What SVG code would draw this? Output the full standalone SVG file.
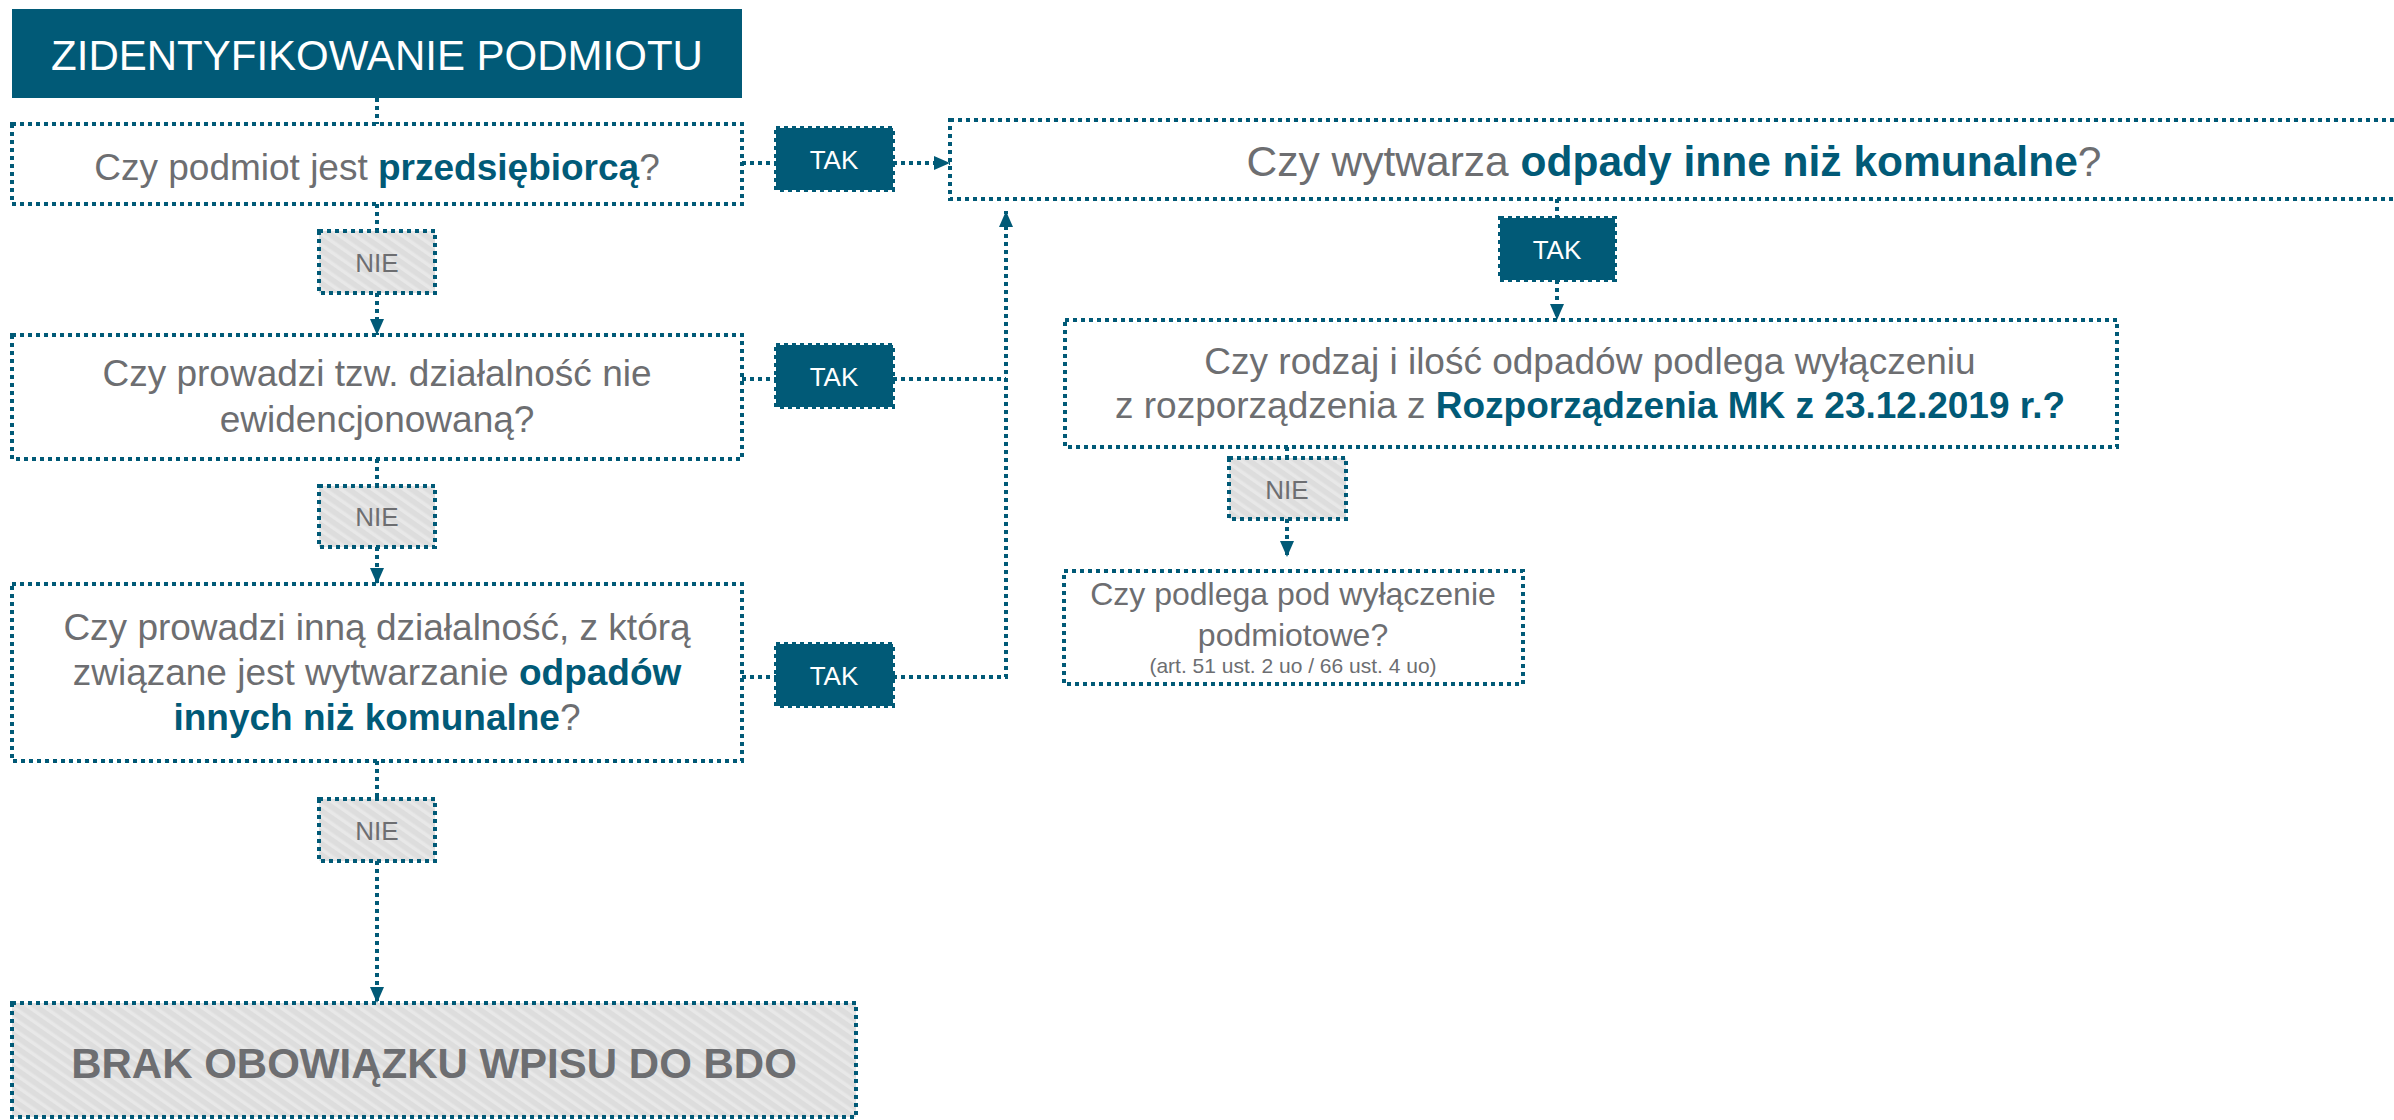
<svg xmlns="http://www.w3.org/2000/svg" width="2394" height="1120" viewBox="0 0 2394 1120">
<defs>
<style>
.dot{fill:none;stroke:#015a77;stroke-width:4;stroke-dasharray:4 4}
.box{fill:#ffffff}
.tak{fill:#015a77}
.nie{fill:url(#hatch)}
.t{font-family:"Liberation Sans",Arial,sans-serif;fill:#6d6e71;text-anchor:middle}
.b{font-weight:bold;fill:#015a77}
.w{fill:#ffffff}
</style>
<pattern id="hatch" width="9" height="9" patternUnits="userSpaceOnUse" patternTransform="rotate(-55)">
<rect width="9" height="9" fill="#dddddd"/>
<rect width="3.5" height="9" fill="#e8e8e8"/>
</pattern>
<marker id="arr" markerUnits="userSpaceOnUse" markerWidth="16" markerHeight="14" refX="16" refY="7" orient="auto">
<path d="M0,0 L16,7 L0,14 z" fill="#015a77"/>
</marker>
</defs>
<rect width="2394" height="1120" fill="#ffffff"/>

<g id="connectors" class="dot">
<path d="M377,98 V124"/>
<path d="M377,204 V231"/>
<path d="M377,293 V335" marker-end="url(#arr)"/>
<path d="M377,459 V486"/>
<path d="M377,547 V584" marker-end="url(#arr)"/>
<path d="M377,761 V799"/>
<path d="M377,861 V1003" marker-end="url(#arr)"/>
<path d="M742,163 H776"/>
<path d="M893,163 H950" marker-end="url(#arr)"/>
<path d="M742,379 H776"/>
<path d="M893,379 H1006"/>
<path d="M742,677 H776"/>
<path d="M893,677 H1006 V211" marker-end="url(#arr)"/>
<path d="M1557,199 V218"/>
<path d="M1557,280 V320" marker-end="url(#arr)"/>
<path d="M1287,447 V458"/>
<path d="M1287,519 V557" marker-end="url(#arr)"/>
</g>

<g id="title">
<rect x="12" y="9" width="730" height="89" fill="#015a77"/>
<text class="t w" x="377" y="70" font-size="42">ZIDENTYFIKOWANIE PODMIOTU</text>
</g>

<g id="q1">
<rect class="box dot" x="12" y="124" width="730" height="80"/>
<text class="t" x="377" y="180" font-size="37">Czy podmiot jest <tspan class="b">przedsiębiorcą</tspan>?</text>
</g>

<g id="nie1">
<rect class="nie dot" x="319" y="231" width="116" height="62"/>
<text class="t" x="377" y="272" font-size="26">NIE</text>
</g>

<g id="q2">
<rect class="box dot" x="12" y="335" width="730" height="124"/>
<text class="t" x="377" y="386" font-size="37">Czy prowadzi tzw. działalność nie</text>
<text class="t" x="377" y="432" font-size="37">ewidencjonowaną?</text>
</g>

<g id="nie2">
<rect class="nie dot" x="319" y="486" width="116" height="61"/>
<text class="t" x="377" y="526" font-size="26">NIE</text>
</g>

<g id="q3">
<rect class="box dot" x="12" y="584" width="730" height="177"/>
<text class="t" x="377" y="640" font-size="37">Czy prowadzi inną działalność, z którą</text>
<text class="t" x="377" y="685" font-size="37">związane jest wytwarzanie <tspan class="b">odpadów</tspan></text>
<text class="t" x="377" y="730" font-size="37"><tspan class="b">innych niż komunalne</tspan>?</text>
</g>

<g id="nie3">
<rect class="nie dot" x="319" y="799" width="116" height="62"/>
<text class="t" x="377" y="840" font-size="26">NIE</text>
</g>

<g id="brak">
<rect class="nie dot" x="12" y="1003" width="844" height="114"/>
<text class="t" x="434" y="1078" font-size="42" font-weight="bold">BRAK OBOWIĄZKU WPISU DO BDO</text>
</g>

<g id="tak1">
<rect class="tak dot" x="776" y="128" width="117" height="62"/>
<text class="t w" x="834" y="169" font-size="26">TAK</text>
</g>

<g id="tak2">
<rect class="tak dot" x="776" y="345" width="117" height="62"/>
<text class="t w" x="834" y="386" font-size="26">TAK</text>
</g>

<g id="tak3">
<rect class="tak dot" x="776" y="644" width="117" height="62"/>
<text class="t w" x="834" y="685" font-size="26">TAK</text>
</g>

<g id="q4">
<rect class="box dot" x="950" y="120" width="1470" height="79"/>
<text class="t" x="1674" y="176" font-size="42.5">Czy wytwarza <tspan class="b">odpady inne niż komunalne</tspan>?</text>
</g>

<g id="tak4">
<rect class="tak dot" x="1500" y="218" width="115" height="62"/>
<text class="t w" x="1557" y="259" font-size="26">TAK</text>
</g>

<g id="q5">
<rect class="box dot" x="1065" y="320" width="1052" height="127"/>
<text class="t" x="1590" y="374" font-size="37">Czy rodzaj i ilość odpadów podlega wyłączeniu</text>
<text class="t" x="1590" y="418" font-size="37">z rozporządzenia z <tspan class="b">Rozporządzenia MK z 23.12.2019 r.?</tspan></text>
</g>

<g id="nie4">
<rect class="nie dot" x="1229" y="458" width="117" height="61"/>
<text class="t" x="1287" y="499" font-size="26">NIE</text>
</g>

<g id="q6">
<rect class="box dot" x="1064" y="571" width="459" height="113"/>
<text class="t" x="1293" y="605" font-size="32">Czy podlega pod wyłączenie</text>
<text class="t" x="1293" y="646" font-size="32">podmiotowe?</text>
<text class="t" x="1293" y="673" font-size="21">(art. 51 ust. 2 uo / 66 ust. 4 uo)</text>
</g>
</svg>
